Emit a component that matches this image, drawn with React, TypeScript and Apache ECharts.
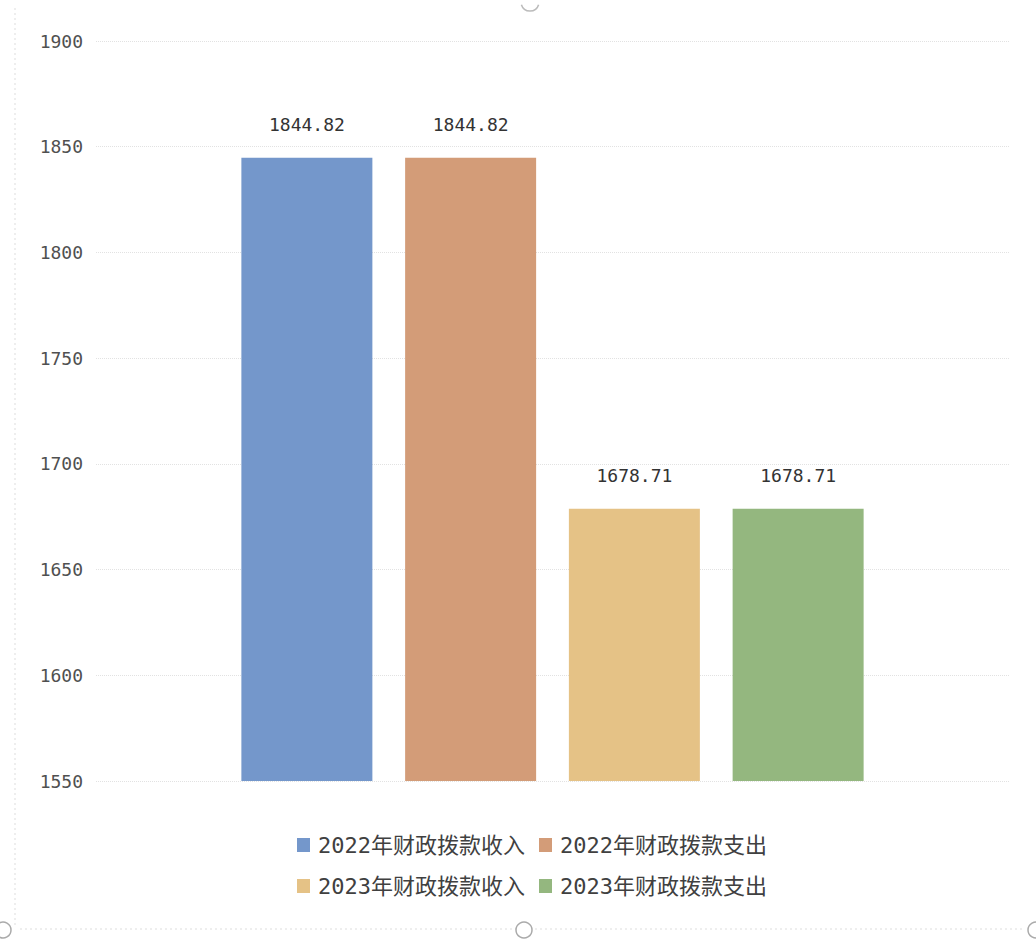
import React, { useEffect, useRef } from "react";
import * as echarts from "echarts";

const categories = ["财政拨款"];
const seriesNames = ["2022年财政拨款收入", "2022年财政拨款支出", "2023年财政拨款收入", "2023年财政拨款支出"];
const seriesValues = [1844.82, 1844.82, 1678.71, 1678.71];
const seriesColors = ["#7497cb", "#d39c78", "#e5c286", "#94b77f"];
const yMin = 1550;
const yMax = 1900;
const yInterval = 50;

const numFont = "'DejaVu Sans Mono', 'Liberation Mono', monospace";
const legendFont = "'DejaVu Sans Mono', 'Noto Sans CJK SC', sans-serif";

export default function App() {
  const ref = useRef<HTMLDivElement>(null);
  useEffect(() => {
    if (!ref.current) return;
    const chart = echarts.init(ref.current, undefined, { renderer: "svg" });
    const legendBase = {
      left: 292,
      itemWidth: 13,
      itemHeight: 14,
      itemGap: 14,
      icon: "rect",
      textStyle: { fontFamily: legendFont, fontSize: 22, color: "#404040", padding: [0, 0, 0, 3] },
    };
    chart.setOption({
      animation: false,
      backgroundColor: "#ffffff",
      grid: { left: 96, right: 27, top: 41, bottom: 162, containLabel: false },
      legend: [
        { ...legendBase, data: seriesNames.slice(0, 2), top: 829 },
        { ...legendBase, data: seriesNames.slice(2, 4), top: 870 },
      ],
      xAxis: {
        type: "category",
        data: categories,
        axisLine: { show: false },
        axisTick: { show: false },
        axisLabel: { show: false },
      },
      yAxis: {
        type: "value",
        min: yMin,
        max: yMax,
        interval: yInterval,
        axisLine: { show: false },
        axisTick: { show: false },
        axisLabel: {
          fontFamily: numFont,
          fontSize: 18,
          color: "#505050",
          margin: 13,
          formatter: (v: number) => String(v),
        },
        splitLine: { lineStyle: { color: "#e2e2e2", width: 1, type: "dotted" } },
      },
      series: seriesNames.map((name, i) => ({
        name,
        type: "bar",
        data: [seriesValues[i]],
        barWidth: 131,
        barGap: "25%",
        itemStyle: { color: seriesColors[i] },
        label: {
          show: true,
          position: "top",
          distance: 24,
          fontFamily: numFont,
          fontSize: 18,
          color: "#333333",
          formatter: (p: any) => p.value.toFixed(2),
        },
      })),
      graphic: [
        { type: "line", shape: { x1: 15, y1: 8, x2: 15, y2: 925 }, style: { stroke: "#dddddd", lineWidth: 1, lineDash: [2, 3] }, silent: true },
        { type: "line", shape: { x1: 20, y1: 929, x2: 1025, y2: 929 }, style: { stroke: "#dddddd", lineWidth: 1, lineDash: [2, 3] }, silent: true },
        { type: "circle", shape: { cx: 524, cy: 930, r: 8 }, style: { fill: "#ffffff", stroke: "#aaaaaa", lineWidth: 1.5 }, silent: true },
        { type: "circle", shape: { cx: 3, cy: 930, r: 8 }, style: { fill: "#ffffff", stroke: "#aaaaaa", lineWidth: 1.5 }, silent: true },
        { type: "circle", shape: { cx: 1036, cy: 930, r: 8 }, style: { fill: "#ffffff", stroke: "#aaaaaa", lineWidth: 1.5 }, silent: true },
        { type: "arc", shape: { cx: 530, cy: 2, r: 9, startAngle: 0.3, endAngle: Math.PI - 0.3 }, style: { stroke: "#bbbbbb", lineWidth: 1.5, fill: "none" }, silent: true },
      ],
    });
    return () => chart.dispose();
  }, []);
  return (
    <div
      ref={ref}
      style={{ position: "fixed", left: 0, top: 0, width: 1036, height: 943 }}
    />
  );
}
